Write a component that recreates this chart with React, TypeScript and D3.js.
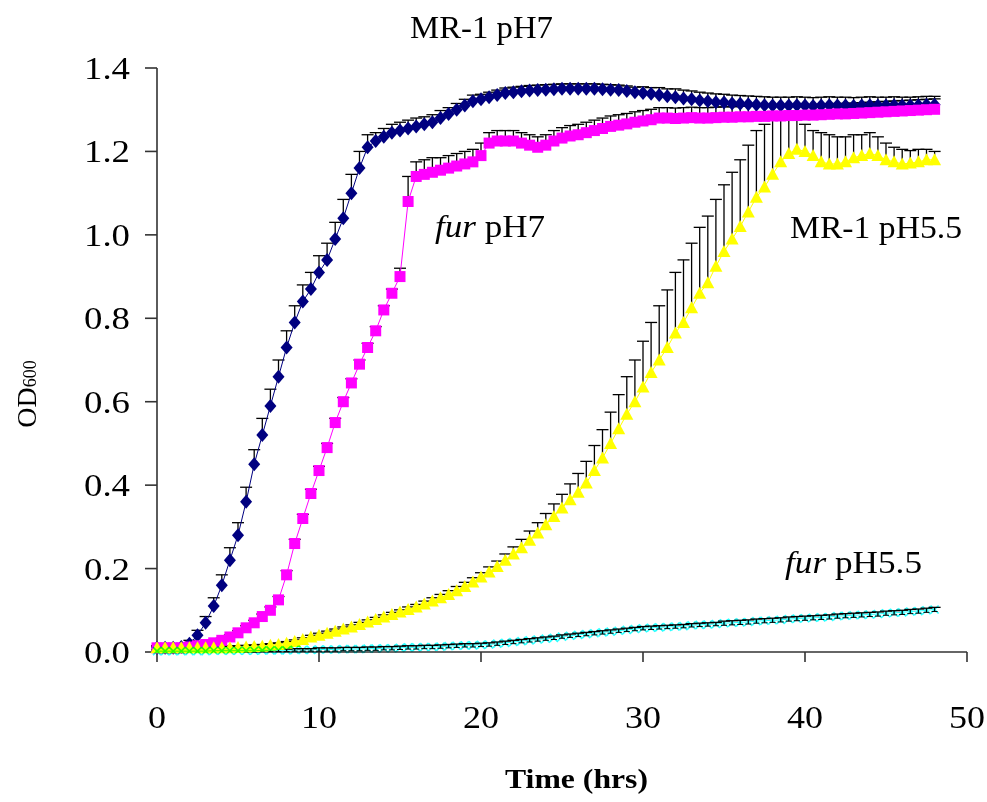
import React from 'react';
import * as d3 from 'd3';

const hours = [
  0, 0.5, 1, 1.5, 2, 2.5, 3, 3.5, 4, 4.5,
  5, 5.5, 6, 6.5, 7, 7.5, 8, 8.5, 9, 9.5,
  10, 10.5, 11, 11.5, 12, 12.5, 13, 13.5, 14, 14.5,
  15, 15.5, 16, 16.5, 17, 17.5, 18, 18.5, 19, 19.5,
  20, 20.5, 21, 21.5, 22, 22.5, 23, 23.5, 24, 24.5,
  25, 25.5, 26, 26.5, 27, 27.5, 28, 28.5, 29, 29.5,
  30, 30.5, 31, 31.5, 32, 32.5, 33, 33.5, 34, 34.5,
  35, 35.5, 36, 36.5, 37, 37.5, 38, 38.5, 39, 39.5,
  40, 40.5, 41, 41.5, 42, 42.5, 43, 43.5, 44, 44.5,
  45, 45.5, 46, 46.5, 47, 47.5, 48,
];

// MR-1 pH7
const mr1pH7 = [
  0.010, 0.010, 0.010, 0.012, 0.020, 0.040, 0.070, 0.110, 0.160, 0.220,
  0.280, 0.360, 0.450, 0.520, 0.590, 0.660, 0.730, 0.790, 0.840, 0.870,
  0.910, 0.940, 0.990, 1.040, 1.100, 1.160, 1.210, 1.225, 1.235, 1.245,
  1.250, 1.255, 1.260, 1.265, 1.270, 1.280, 1.290, 1.300, 1.310, 1.320,
  1.325, 1.330, 1.335, 1.340, 1.342, 1.344, 1.346, 1.347, 1.348, 1.349,
  1.350, 1.350, 1.350, 1.350, 1.350, 1.349, 1.348, 1.347, 1.345, 1.342,
  1.340, 1.338, 1.335, 1.332, 1.330, 1.327, 1.325, 1.322, 1.320, 1.318,
  1.317, 1.315, 1.314, 1.313, 1.312, 1.311, 1.310, 1.310, 1.310, 1.311,
  1.310, 1.309, 1.310, 1.311, 1.310, 1.310, 1.309, 1.310, 1.311, 1.310,
  1.310, 1.311, 1.310, 1.310, 1.311, 1.312, 1.312,
];
const mr1pH7Err = [
  0.005, 0.005, 0.005, 0.005, 0.008, 0.012, 0.015, 0.020, 0.025, 0.030,
  0.030, 0.035, 0.035, 0.040, 0.040, 0.040, 0.040, 0.040, 0.040, 0.040,
  0.040, 0.040, 0.040, 0.045, 0.045, 0.040, 0.030, 0.020, 0.020, 0.020,
  0.020, 0.020, 0.020, 0.018, 0.018, 0.018, 0.015, 0.015, 0.015, 0.015,
  0.012, 0.012, 0.012, 0.012, 0.012, 0.012, 0.012, 0.012, 0.012, 0.012,
  0.012, 0.012, 0.012, 0.012, 0.012, 0.012, 0.012, 0.012, 0.012, 0.012,
  0.015, 0.015, 0.018, 0.018, 0.020, 0.020, 0.020, 0.020, 0.020, 0.020,
  0.020, 0.020, 0.020, 0.020, 0.020, 0.020, 0.020, 0.020, 0.020, 0.020,
  0.020, 0.020, 0.020, 0.020, 0.020, 0.020, 0.020, 0.020, 0.020, 0.020,
  0.020, 0.020, 0.020, 0.020, 0.020, 0.020, 0.020,
];

// fur pH7
const furpH7 = [
  0.010, 0.010, 0.010, 0.010, 0.012, 0.015, 0.018, 0.022, 0.028, 0.036,
  0.046, 0.058, 0.070, 0.085, 0.100, 0.125, 0.185, 0.260, 0.320, 0.380,
  0.435, 0.490, 0.550, 0.600, 0.645, 0.690, 0.730, 0.770, 0.820, 0.860,
  0.900, 1.080, 1.140, 1.145, 1.150, 1.155, 1.160, 1.165, 1.170, 1.175,
  1.190, 1.220, 1.225, 1.225, 1.225, 1.220, 1.215, 1.210, 1.215, 1.225,
  1.232, 1.237, 1.240, 1.245, 1.250, 1.255, 1.260, 1.263, 1.266, 1.270,
  1.273, 1.276, 1.280, 1.280, 1.279, 1.280, 1.281, 1.280, 1.280, 1.281,
  1.282, 1.282, 1.283, 1.283, 1.284, 1.284, 1.285, 1.285, 1.286, 1.286,
  1.287, 1.287, 1.288, 1.289, 1.290, 1.290, 1.291, 1.292, 1.293, 1.294,
  1.295, 1.296, 1.297, 1.298, 1.299, 1.300, 1.301,
];
const furpH7Err = [
  0.005, 0.005, 0.005, 0.005, 0.005, 0.005, 0.005, 0.005, 0.005, 0.005,
  0.005, 0.005, 0.006, 0.006, 0.008, 0.008, 0.010, 0.010, 0.010, 0.010,
  0.010, 0.010, 0.010, 0.010, 0.010, 0.010, 0.010, 0.010, 0.010, 0.010,
  0.020, 0.060, 0.035, 0.035, 0.035, 0.030, 0.030, 0.030, 0.030, 0.030,
  0.030, 0.025, 0.025, 0.025, 0.025, 0.025, 0.025, 0.025, 0.025, 0.025,
  0.025, 0.025, 0.025, 0.025, 0.025, 0.025, 0.025, 0.025, 0.025, 0.025,
  0.025, 0.025, 0.025, 0.025, 0.025, 0.025, 0.025, 0.025, 0.025, 0.025,
  0.025, 0.025, 0.025, 0.025, 0.025, 0.025, 0.025, 0.025, 0.025, 0.025,
  0.025, 0.025, 0.025, 0.025, 0.025, 0.025, 0.025, 0.025, 0.025, 0.025,
  0.025, 0.025, 0.025, 0.025, 0.025, 0.025, 0.025,
];

// MR-1 pH5.5
const mr1pH55 = [
  0.010, 0.010, 0.010, 0.010, 0.010, 0.010, 0.010, 0.010, 0.010, 0.010,
  0.011, 0.012, 0.013, 0.014, 0.016, 0.018, 0.021, 0.025, 0.030, 0.036,
  0.040, 0.045, 0.050, 0.055, 0.060, 0.066, 0.072, 0.078, 0.084, 0.090,
  0.096, 0.102, 0.108, 0.115, 0.122, 0.130, 0.138, 0.147, 0.157, 0.168,
  0.180, 0.192, 0.205, 0.220, 0.235, 0.250, 0.268, 0.285, 0.305, 0.325,
  0.345, 0.365, 0.383, 0.405, 0.435, 0.465, 0.500, 0.535, 0.570, 0.600,
  0.635, 0.670, 0.700, 0.730, 0.765, 0.790, 0.825, 0.860, 0.885, 0.925,
  0.960, 0.990, 1.020, 1.055, 1.090, 1.115, 1.145, 1.175, 1.195, 1.205,
  1.200, 1.190, 1.175, 1.170, 1.170, 1.175, 1.185, 1.190, 1.195, 1.190,
  1.180, 1.175, 1.170, 1.172, 1.175, 1.180, 1.180,
];
const mr1pH55Err = [
  0.004, 0.004, 0.004, 0.004, 0.004, 0.004, 0.004, 0.004, 0.004, 0.004,
  0.004, 0.004, 0.004, 0.004, 0.004, 0.004, 0.004, 0.004, 0.004, 0.004,
  0.005, 0.005, 0.005, 0.005, 0.005, 0.005, 0.005, 0.005, 0.005, 0.005,
  0.005, 0.006, 0.006, 0.007, 0.008, 0.008, 0.009, 0.010, 0.010, 0.010,
  0.010, 0.012, 0.013, 0.015, 0.017, 0.020, 0.022, 0.025, 0.027, 0.030,
  0.033, 0.038, 0.045, 0.052, 0.060, 0.068, 0.075, 0.082, 0.090, 0.100,
  0.110, 0.120, 0.130, 0.138, 0.145, 0.150, 0.155, 0.158, 0.160, 0.160,
  0.160, 0.160, 0.160, 0.160, 0.160, 0.150, 0.140, 0.120, 0.100, 0.080,
  0.065, 0.060, 0.070, 0.070, 0.065, 0.060, 0.055, 0.050, 0.050, 0.045,
  0.040, 0.035, 0.035, 0.030, 0.030, 0.025, 0.020,
];

// fur pH5.5
const furpH55 = [
  0.002, 0.002, 0.002, 0.002, 0.002, 0.002, 0.002, 0.003, 0.003, 0.003,
  0.003, 0.003, 0.003, 0.004, 0.004, 0.004, 0.004, 0.005, 0.005, 0.005,
  0.006, 0.006, 0.006, 0.007, 0.007, 0.007, 0.008, 0.008, 0.009, 0.009,
  0.010, 0.011, 0.011, 0.012, 0.012, 0.013, 0.014, 0.015, 0.016, 0.016,
  0.017, 0.018, 0.020, 0.022, 0.024, 0.026, 0.028, 0.030, 0.032, 0.034,
  0.037, 0.039, 0.041, 0.043, 0.045, 0.047, 0.049, 0.051, 0.053, 0.055,
  0.057, 0.058, 0.059, 0.060, 0.061, 0.062, 0.064, 0.065, 0.066, 0.067,
  0.069, 0.070, 0.071, 0.072, 0.074, 0.075, 0.076, 0.077, 0.079, 0.080,
  0.081, 0.082, 0.083, 0.084, 0.086, 0.087, 0.088, 0.089, 0.090, 0.091,
  0.093, 0.094, 0.095, 0.097, 0.098, 0.100, 0.102,
];
const furpH55Err = [
  0.003, 0.003, 0.003, 0.003, 0.003, 0.003, 0.003, 0.003, 0.003, 0.003,
  0.003, 0.003, 0.003, 0.003, 0.003, 0.003, 0.003, 0.003, 0.003, 0.003,
  0.004, 0.004, 0.004, 0.004, 0.004, 0.004, 0.004, 0.004, 0.004, 0.004,
  0.004, 0.004, 0.004, 0.004, 0.004, 0.004, 0.004, 0.004, 0.004, 0.004,
  0.004, 0.004, 0.004, 0.004, 0.004, 0.004, 0.004, 0.004, 0.004, 0.004,
  0.004, 0.004, 0.004, 0.004, 0.004, 0.004, 0.004, 0.004, 0.004, 0.004,
  0.004, 0.004, 0.004, 0.004, 0.004, 0.004, 0.004, 0.004, 0.004, 0.004,
  0.005, 0.005, 0.005, 0.005, 0.005, 0.005, 0.005, 0.005, 0.005, 0.005,
  0.005, 0.005, 0.005, 0.005, 0.005, 0.005, 0.005, 0.005, 0.005, 0.005,
  0.005, 0.005, 0.005, 0.005, 0.005, 0.005, 0.005,
];

const xTicks = [0, 10, 20, 30, 40, 50];
const yTicks = [0, 0.2, 0.4, 0.6, 0.8, 1.0, 1.2, 1.4];

const FONT = 'Liberation Serif, Times New Roman, Times, serif';

export default function App() {
  const x = d3.scaleLinear().domain([0, 50]).range([157, 967]);
  const y = d3.scaleLinear().domain([0, 1.4]).range([652, 68]);

  const lineGen = d3
    .line<number>()
    .x((_, i) => x(hours[i]))
    .y((v) => y(v));

  const errorBars = (vals: number[], errs: number[], key: string, both = false) =>
    vals.map((v, i) => {
      const cx = x(hours[i]);
      const top = y(v + errs[i]);
      const bot = both ? y(v - errs[i]) : y(v);
      return (
        <g key={key + i}>
          <line x1={cx} x2={cx} y1={bot} y2={top} stroke="#000" strokeWidth={1.3} />
          <line x1={cx - 6} x2={cx + 6} y1={top} y2={top} stroke="#000" strokeWidth={1.3} />
          {both && <line x1={cx - 3} x2={cx + 3} y1={bot} y2={bot} stroke="#000" strokeWidth={1} />}
        </g>
      );
    });

  const diamond = 'M0,-7L6,0L0,7L-6,0Z';
  const square = 'M-5.5,-5.5L5.5,-5.5L5.5,5.5L-5.5,5.5Z';
  const triangle = 'M0,-6.5L6.5,5.5L-6.5,5.5Z';
  const cross = 'M-4,-4L4,4M-4,4L4,-4';

  const markers = (vals: number[], path: string, fill: string, key: string, stroke?: string) =>
    vals.map((v, i) => (
      <path
        key={key + i}
        d={path}
        transform={`translate(${x(hours[i])},${y(v)})`}
        fill={stroke ? 'none' : fill}
        stroke={stroke || 'none'}
        strokeWidth={stroke ? 1.6 : 0}
      />
    ));

  const label = (
    tx: number,
    ty: number,
    content: React.ReactNode,
    opts: { size?: number; anchor?: string; weight?: string; len?: number } = {}
  ) => (
    <text
      x={tx}
      y={ty}
      style={{ fontFamily: FONT, fontSize: opts.size ?? 30, fontWeight: opts.weight ?? 'normal' }}
      textAnchor={opts.anchor ?? 'start'}
      fill="#000"
      textLength={opts.len}
      lengthAdjust="spacingAndGlyphs"
    >
      {content}
    </text>
  );

  return (
    <svg
      width={987}
      height={802}
      style={{ position: 'absolute', left: 0, top: 0, background: '#fff' }}
    >
      <rect x={0} y={0} width={987} height={802} fill="#fff" />

      {/* axes */}
      <line x1={157} x2={157} y1={y(1.4)} y2={y(0)} stroke="#333" strokeWidth={1.6} />
      <line x1={157} x2={x(50)} y1={y(0)} y2={y(0)} stroke="#333" strokeWidth={1.6} />
      {yTicks.map((t) => (
        <g key={'yt' + t}>
          <line x1={145} x2={157} y1={y(t)} y2={y(t)} stroke="#333" strokeWidth={1.6} />
          {label(130, y(t) + 11, t.toFixed(1), { anchor: 'end', size: 32, len: 46 })}
        </g>
      ))}
      {xTicks.map((t) => (
        <g key={'xt' + t}>
          <line x1={x(t)} x2={x(t)} y1={y(0)} y2={y(0) + 10} stroke="#333" strokeWidth={1.6} />
          {label(x(t), 728, String(t), {
            anchor: 'middle',
            size: 32,
            len: t === 0 ? 18 : 36,
          })}
        </g>
      ))}

      {/* error bars */}
      {errorBars(mr1pH7, mr1pH7Err, 'eb')}
      {errorBars(furpH7, furpH7Err, 'ep')}
      {errorBars(mr1pH55, mr1pH55Err, 'ey')}
      {errorBars(furpH55, furpH55Err, 'ec', true)}

      {/* series */}
      <path d={lineGen(mr1pH7) || ''} fill="none" stroke="#000080" strokeWidth={1} />
      {markers(mr1pH7, diamond, '#000080', 'mb')}
      <path d={lineGen(furpH7) || ''} fill="none" stroke="#FF00FF" strokeWidth={1} />
      {markers(furpH7, square, '#FF00FF', 'mp')}
      <path d={lineGen(mr1pH55) || ''} fill="none" stroke="#FFFF00" strokeWidth={1} />
      {markers(mr1pH55, triangle, '#FFFF00', 'my')}
      <g style={{ mixBlendMode: 'multiply' }} opacity={0.85}>
        <path d={lineGen(furpH55) || ''} fill="none" stroke="#00FFFF" strokeWidth={1} />
        {markers(furpH55, cross, '#00FFFF', 'mc', '#00FFFF')}
      </g>

      {/* labels */}
      {label(410, 38, 'MR-1 pH7', { size: 31, len: 143 })}
      {label(
        435,
        237,
        <>
          <tspan fontStyle="italic">fur</tspan>
          <tspan> pH7</tspan>
        </>,
        { size: 31, len: 110 }
      )}
      {label(790, 238, 'MR-1 pH5.5', { size: 31, len: 172 })}
      {label(
        785,
        573,
        <>
          <tspan fontStyle="italic">fur</tspan>
          <tspan> pH5.5</tspan>
        </>,
        { size: 31, len: 137 }
      )}
      {label(505, 788, 'Time (hrs)', { size: 28, weight: 'bold', len: 143 })}
      <text
        transform="translate(36,394) rotate(-90)"
        style={{ fontFamily: FONT, fontSize: 28 }}
        textAnchor="middle"
        fill="#000"
      >
        OD
        <tspan style={{ fontSize: 18 }}>600</tspan>
      </text>
    </svg>
  );
}
